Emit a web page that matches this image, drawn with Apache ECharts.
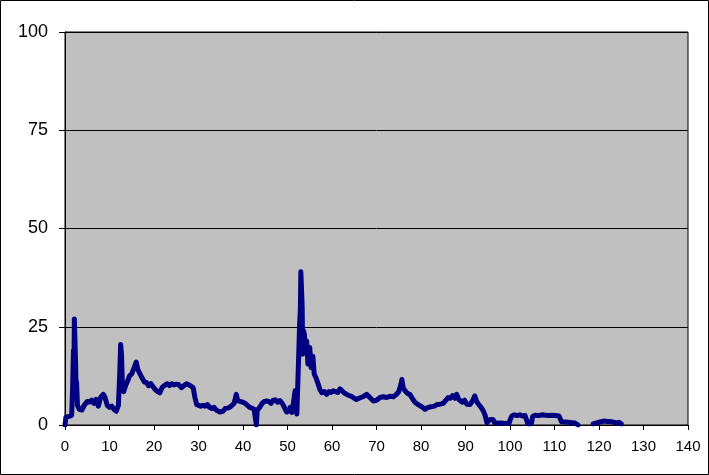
<!DOCTYPE html>
<html><head><meta charset="utf-8">
<script src="https://cdn.jsdelivr.net/npm/echarts@6/dist/echarts.min.js"></script>
<style>html,body{margin:0;padding:0;background:#fff}#c{width:709px;height:475px}</style>
</head><body><div id="c"></div>
<script>
const xTicks = [0,10,20,30,40,50,60,70,80,90,100,110,120,130,140];
const yTicks = [0,25,50,75,100];
const xVals = [0,0.2,0.5,1,1.5,1.7,1.9,2.0,2.1,2.25,2.4,2.5,2.6,2.8,3.2,3.8,4.3,5,5.5,6,6.5,7,7.5,8,8.6,9,9.5,10,10.5,11,11.5,11.8,12,12.3,12.5,12.7,12.9,13.2,13.6,14,14.5,15,15.5,16,16.4,16.8,17.3,17.8,18.3,18.8,19.3,19.8,20.3,20.8,21.3,21.8,22.3,23,23.5,24,24.5,25,25.5,26.2,26.7,27.3,27.7,28.2,28.8,29.2,29.6,30,30.5,31,31.5,32,32.5,33,33.5,34,34.8,35.5,36,36.5,37,37.5,38,38.5,38.8,39.3,40,40.5,41,41.5,42,42.5,42.9,43,43.2,43.7,44.3,44.8,45.3,45.8,46.3,46.8,47.3,47.8,48.3,48.8,49.3,49.8,50.3,50.6,51,51.3,51.7,52.1,52.3,52.5,52.7,52.9,53.0,53.2,53.3,53.4,53.6,53.8,54.0,54.3,54.6,55,55.3,55.7,56,56.4,56.9,57.3,57.7,58.3,58.8,59.3,59.8,60.3,60.8,61.3,61.8,62.2,62.7,63.3,63.8,64.5,65,65.5,66,66.5,67,67.8,68.5,69.3,70,70.8,71.5,72.3,73,73.8,74.5,75,75.4,75.7,76,76.4,77,77.5,78.2,78.7,79.3,79.8,80.4,80.9,81.5,82,82.4,83,83.6,84.3,85,85.6,86.1,86.6,87.1,87.6,88,88.5,88.8,89.3,89.8,90.3,91,91.6,92.1,92.5,92.9,93.5,94,94.4,94.8,95.2,95.5,96.2,96.5,97,98,99,99.8,100.1,100.4,101,101.6,102.2,102.8,103.4,103.8,104.0,104.8,105.1,105.6,106.5,107.3,108,108.8,109.5,110.3,111,111.4,111.6,112,113,114,114.6,115,115.3,117,118.7,119,120,121,122,123,124,124.5,125];
const yVals = [0,2,2.3,2.2,2.5,9,19,12,27,27.5,15,8,11,5,4,3.8,5,6,5.8,6.3,5.5,6.5,4.8,7,7.8,7,5,4.5,4.8,4,3.5,3,5,13,20.5,18,10,8.5,10,11,12.5,13,14.5,16,14,13.5,12,11,10.8,10,10.5,9.7,9,8.5,8.2,9.5,10,10.5,10,10.5,10.2,10.4,10.3,9.5,10,10.5,10.8,10,9.5,7,5.2,5,4.8,5,4.8,5.2,4.5,4.2,4.5,3.8,3.3,3.5,4.2,4.3,4.5,5,5.5,7.8,6.2,6,5.8,5.5,5,4.5,4.3,4,3.5,0,3.8,4.4,5.5,6,6.1,6,5.5,6.3,6.4,5.8,6.2,5.5,4.5,3.3,3.5,4.5,3.2,5.4,8.7,2.8,10,17,25,30,39,39.5,30,18,24,23,19,21.4,15.5,19.7,14.6,17.5,13,12,10.4,9,8.2,8.5,7.8,8.5,8.3,8.7,8.5,8.3,9.2,9.5,8.2,7.8,7.5,7.2,6.8,6.5,6.8,7,7.2,7.8,7,6.1,6.3,7,7.2,7,7.3,7.2,7.8,8.5,10,11.6,9.5,8.7,8,7.8,6.5,5.7,5.2,4.9,4.5,4,4.4,4.6,4.9,4.8,5.2,5.3,5.5,6.3,7,6.8,7.5,6.8,7.8,6.5,6.1,5.8,6.3,5.3,5.2,6.2,7.4,6,5.3,4.5,3.6,2.5,0.6,0.8,1.4,1.4,0.6,0.5,0.5,0.4,0.5,1.5,2.3,2.6,2.4,2.6,2.3,2.4,2.3,0.3,0.3,2.2,2.5,2.4,2.6,2.5,2.4,2.5,2.4,2.3,2.2,0.8,0.6,0.7,0.6,0.5,0.3,0,null,0.3,0.6,0.7,1.0,0.9,0.8,0.5,0.7,0.3];

const chart = echarts.init(document.getElementById('c'), null, {renderer:'canvas'});
const data = xVals.map((x,i)=>[x,yVals[i]]);
chart.setOption({
  animation:false,
  backgroundColor:'#fff',
  graphic:[{type:'rect',shape:{x:0.5,y:0.5,width:708,height:474},style:{fill:'none',stroke:'#000',lineWidth:1},z:100}],
  grid:{left:65,top:32,right:21,bottom:50,show:true,backgroundColor:'#c0c0c0',borderColor:'#000',borderWidth:1},
  xAxis:{type:'value',min:xTicks[0],max:xTicks[xTicks.length-1],interval:10,
    axisLine:{show:true,onZero:false,lineStyle:{color:'#000',width:1}},
    axisTick:{show:true,inside:false,length:5,lineStyle:{color:'#000'}},
    axisLabel:{color:'#000',fontSize:15,fontFamily:'Liberation Sans, Arial',margin:14},
    splitLine:{show:false}},
  yAxis:{type:'value',min:yTicks[0],max:yTicks[yTicks.length-1],interval:25,
    axisLine:{show:true,lineStyle:{color:'#000',width:1}},
    axisTick:{show:true,inside:false,length:6,lineStyle:{color:'#000'}},
    axisLabel:{color:'#000',fontSize:18,fontFamily:'Liberation Sans, Arial',margin:17},
    splitLine:{show:true,lineStyle:{color:'#000',width:1}}},
  series:[{type:'line',data:data,showSymbol:false,symbol:'none',connectNulls:false,
    lineStyle:{color:'#000080',width:5,join:'round',cap:'round'},z:5}]
});
</script></body></html>
